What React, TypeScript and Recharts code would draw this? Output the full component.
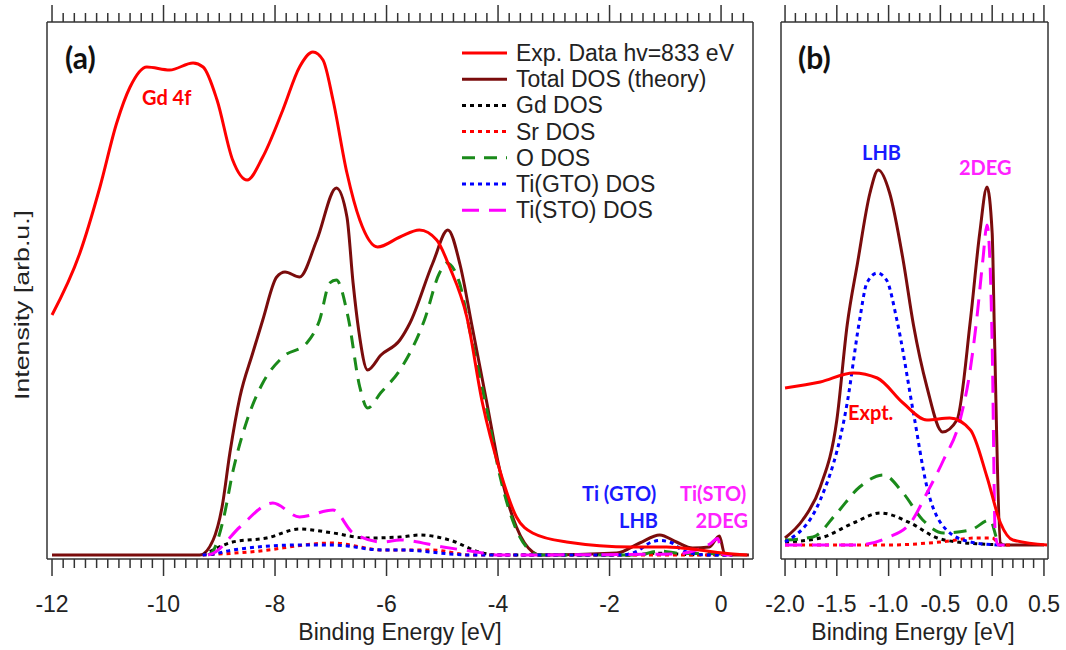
import React from 'react';
import { LineChart, Line, XAxis, YAxis } from 'recharts';

// panel (a): binding energy [eV], intensity [arb.u.]
const expA = [
  [-12, 48], [-11.5, 60.4], [-11.14, 73.6], [-10.84, 86.4], [-10.6, 93.6], [-10.3, 97.6],
  [-9.89, 97], [-9.47, 98.4], [-9.29, 97.6], [-9.04, 91], [-8.76, 79], [-8.5, 75],
  [-8.22, 79.6], [-7.86, 89], [-7.56, 97.6], [-7.32, 100.6], [-7.14, 99], [-6.96, 91],
  [-6.71, 76.4], [-6.48, 67], [-6.16, 61.6], [-5.76, 63.6], [-5.41, 65], [-5.1, 63],
  [-4.87, 57.6], [-4.56, 47.6], [-4.28, 30.4], [-3.97, 17], [-3.67, 7.6], [-3.38, 4.4],
  [-2.77, 2.6], [-1.59, 1.6], [-0.98, 1.6], [-0.39, 1], [0.03, 0.4], [0.47, 0],
];
const totalA = [
  [-12, 0], [-9.35, 0], [-9.11, 3], [-8.95, 9.6], [-8.81, 20.4], [-8.63, 31.6], [-8.4, 40.4],
  [-8.22, 47], [-7.97, 55.6], [-7.82, 56.6], [-7.56, 55.6], [-7.25, 63], [-6.9, 73.4],
  [-6.71, 67.6], [-6.6, 54.4], [-6.5, 45], [-6.34, 37], [-6.1, 40], [-5.76, 43], [-5.58, 46.4],
  [-5.17, 58.4], [-4.9, 65], [-4.68, 58], [-4.47, 46], [-4.2, 30.4], [-3.97, 17], [-3.67, 5.6],
  [-3.38, 0.6], [-3.25, 0], [-1.87, 0.4], [-1.46, 2.4], [-1.1, 4], [-0.8, 2.6], [-0.51, 1.4],
  [-0.21, 1.6], [-0.03, 3.8], [0.06, 0.4], [0.2, 0], [0.5, 0],
];
const gdA = [
  [-9.3, 0], [-9.22, 0.4], [-8.76, 2.6], [-8.15, 3.4], [-7.56, 5.2], [-6.96, 4.4], [-6.36, 3.4],
  [-5.76, 3.6], [-5.4, 4], [-4.87, 3], [-4.28, 0.4], [-4, 0], [-1.7, 0], [-1.1, 0.35],
  [-0.5, 0.05], [0.2, 0],
];
const srA = [
  [-9.3, 0], [-8.45, 0.6], [-6.96, 2.4], [-6.07, 1], [-5.17, 1], [-4.5, 0], [-0.3, 0],
  [-0.05, 0.1], [0.2, 0],
];
const oA = [
  [-9.2, 0], [-9.1, 1], [-8.93, 7], [-8.75, 17], [-8.5, 27], [-8.22, 34.4], [-7.86, 39.6],
  [-7.43, 42.4], [-7.2, 47], [-7.02, 54.4], [-6.9, 55], [-6.69, 47.6], [-6.48, 33.6],
  [-6.34, 29.4], [-6.1, 32.5], [-5.76, 37], [-5.32, 47], [-5.05, 56.4], [-4.92, 58.4],
  [-4.69, 54.4], [-4.51, 45], [-4.2, 29], [-3.97, 16], [-3.67, 5], [-3.38, 0.5], [-3.25, 0],
  [-1.5, 0], [-1.1, 0.8], [-0.7, 0.3], [-0.3, 0.3], [0, 0.2], [0.2, 0],
];
const gtoA = [
  [-9.3, 0], [-9.1, 0.2], [-8.76, 1], [-7.56, 2], [-6.96, 2], [-6.07, 1], [-5.76, 1], [-4.5, 0],
  [-1.8, 0], [-1.5, 0.8], [-1.3, 2.3], [-1.1, 2.9], [-0.9, 2.5], [-0.7, 1], [-0.45, 0.2],
  [-0.2, 0], [0.2, 0],
];
const stoA = [
  [-9.2, 0], [-9.1, 0.4], [-8.63, 5.6], [-8.04, 10.4], [-7.56, 7.6], [-6.96, 9], [-6.6, 4.4],
  [-6.07, 2.6], [-5.76, 3], [-4.99, 1.6], [-4.38, 0.6], [-4, 0], [-0.8, 0.2], [-0.47, 0.9],
  [-0.2, 2.2], [-0.06, 3.3], [0.02, 0.2], [0.1, 0], [0.2, 0],
];

// panel (b): zoom on the region near the Fermi level
const expB = [
  [-2, 31.4], [-1.66, 32.6], [-1.34, 34.4], [-1.11, 33.4], [-0.86, 28.4], [-0.63, 25],
  [-0.41, 25.4], [-0.21, 23], [-0.05, 13.6], [0.08, 4.4], [0.2, 1], [0.53, 0],
];
const totalB = [
  [-2, 1.4], [-1.83, 5], [-1.66, 11.6], [-1.5, 25], [-1.4, 44], [-1.3, 56.4], [-1.18, 70.4],
  [-1.1, 75], [-0.99, 70.4], [-0.86, 57], [-0.76, 44], [-0.63, 31.6], [-0.48, 22.6],
  [-0.34, 25], [-0.21, 45], [-0.12, 62.4], [-0.05, 71.6], [0, 62.4], [0.02, 44], [0.08, 0.4],
  [0.12, 0], [0.5, 0],
];
const gdB = [
  [-2, 0.6], [-1.66, 1.4], [-1.34, 4.4], [-1.08, 6.4], [-0.79, 4.4], [-0.53, 1.4],
  [-0.34, 0.6], [-0.1, 0.2], [0.1, 0],
];
const srB = [[-2, 0], [-1, 0], [-0.5, 0.6], [-0.15, 1.4], [0, 1.4], [0.08, 0], [0.2, 0]];
const oB = [
  [-2, 1], [-1.73, 1.6], [-1.5, 6.4], [-1.28, 11.6], [-1.05, 14], [-0.86, 10.4], [-0.67, 5],
  [-0.47, 2.4], [-0.21, 3], [-0.02, 5], [0.05, 1], [0.1, 0],
];
const gtoB = [
  [-2, 0.6], [-1.66, 9], [-1.4, 28.4], [-1.28, 45], [-1.21, 52.4], [-1.11, 54.4], [-1.02, 53],
  [-0.92, 45], [-0.76, 26.4], [-0.63, 11.6], [-0.44, 3], [-0.21, 0.6], [0.05, 0],
];
const stoB = [
  [-2, 0], [-1.3, 0], [-1.02, 1.4], [-0.79, 4.4], [-0.63, 10.4], [-0.47, 17], [-0.31, 25],
  [-0.22, 34], [-0.15, 45], [-0.09, 57], [-0.05, 64], [-0.02, 56], [0, 40], [0.03, 2],
  [0.06, 0], [0.12, 0],
];

const labelsA = [-12, -10, -8, -6, -4, -2, 0];
const labelsB = [-2.0, -1.5, -1.0, -0.5, 0.0, 0.5];

const toPts = (a: number[][]) => a.map(([e, v]) => ({ e, v }));

const RED = '#ff0000';
const MAROON = '#7a0c0c';
const GREEN = '#1a8a1a';
const BLUE = '#0000ff';
const MAGENTA = '#ff00ff';
const AXIS = '#333';
const FONT = '"Liberation Sans", Arial, sans-serif';
const BOLD = 'Lato, "Open Sans", sans-serif';

const series = [
  { name: 'Exp. Data hv=833 eV', color: RED, dash: undefined },
  { name: 'Total DOS (theory)', color: MAROON, dash: undefined },
  { name: 'Gd DOS', color: '#000', dash: '4 4' },
  { name: 'Sr DOS', color: RED, dash: '4 4' },
  { name: 'O DOS', color: GREEN, dash: '13 9' },
  { name: 'Ti(GTO) DOS', color: BLUE, dash: '4 4' },
  { name: 'Ti(STO) DOS', color: MAGENTA, dash: '17 10' },
];

const minorTicks = (from: number, to: number, step: number) => {
  const out: number[] = [];
  for (let i = 0; from + i * step <= to + 1e-9; i++) out.push(Math.round((from + i * step) * 10) / 10);
  return out;
};
const ticksA = minorTicks(-12, 0.4, 0.2);
const ticksB = minorTicks(-2, 0.5, 0.1);

const PLOT_TOP = 22;
const PLOT_BOTTOM = 559;

function makeTick(side: 'top' | 'bottom', labels: number[], fmt: (v: number) => string) {
  return (props: any) => {
    const { x, payload } = props;
    const major = labels.some((l) => Math.abs(l - payload.value) < 1e-6);
    const len = major ? 17 : 9;
    const y0 = side === 'bottom' ? PLOT_BOTTOM : PLOT_TOP;
    const dir = side === 'bottom' ? 1 : -1;
    return (
      <g>
        <line x1={x} x2={x} y1={y0} y2={y0 + dir * len} stroke={AXIS} strokeWidth={1.5} />
        {side === 'bottom' && major && (
          <text x={x} y={604} textAnchor="middle" dominantBaseline="central" fontFamily={FONT} fontSize={23} fill="#222">
            {fmt(payload.value)}
          </text>
        )}
      </g>
    );
  };
}

function Panel({ width, margin, domainX, domainY, ticks, labels, fmt, data }: any) {
  const lines = [data.total, data.gd, data.sr, data.o, data.gto, data.sto, data.exp];
  const styles = [series[1], series[2], series[3], series[4], series[5], series[6], series[0]];
  return (
    <LineChart width={width} height={650} margin={margin}>
      <XAxis
        dataKey="e"
        type="number"
        domain={domainX}
        allowDataOverflow
        ticks={ticks}
        interval={0}
        height={1}
        tickLine={false}
        axisLine={{ stroke: AXIS, strokeWidth: 1.5 }}
        tick={makeTick('bottom', labels, fmt)}
      />
      <XAxis
        xAxisId="top"
        orientation="top"
        dataKey="e"
        type="number"
        domain={domainX}
        allowDataOverflow
        ticks={ticks}
        interval={0}
        height={1}
        tickLine={false}
        axisLine={{ stroke: AXIS, strokeWidth: 1.5 }}
        tick={makeTick('top', labels, fmt)}
      />
      <YAxis width={1} domain={domainY} allowDataOverflow tick={false} tickLine={false} axisLine={{ stroke: AXIS, strokeWidth: 1.5 }} />
      <YAxis yAxisId="r" orientation="right" width={1} domain={domainY} allowDataOverflow tick={false} tickLine={false} axisLine={{ stroke: AXIS, strokeWidth: 1.5 }} />
      {lines.map((d: number[][], i: number) => (
        <Line
          key={styles[i].name}
          data={toPts(d)}
          dataKey="v"
          type="monotone"
          stroke={styles[i].color}
          strokeWidth={3}
          strokeDasharray={styles[i].dash}
          dot={false}
          activeDot={false}
          isAnimationActive={false}
        />
      ))}
    </LineChart>
  );
}

export default function App() {
  const txt = (x: number, y: number, s: string, color: string, size: number, anchor = 'start') => (
    <text x={x} y={y} fill={color} fontFamily={BOLD} fontWeight={700} fontSize={size} textAnchor={anchor} dominantBaseline="central">
      {s}
    </text>
  );
  return (
    <div style={{ position: 'fixed', left: 0, top: 0, width: 1066, height: 650, background: '#fff' }}>
      <div style={{ position: 'absolute', left: 0, top: 0 }}>
        <Panel
          width={760}
          margin={{ top: 21, left: 46, right: 6, bottom: 90 }}
          domainX={[-12.09, 0.573]}
          domainY={[-0.8, 106.6]}
          ticks={ticksA}
          labels={labelsA}
          fmt={(v: number) => String(v)}
          data={{ exp: expA, total: totalA, gd: gdA, sr: srA, o: oA, gto: gtoA, sto: stoA }}
        />
      </div>
      <div style={{ position: 'absolute', left: 760, top: 0 }}>
        <Panel
          width={306}
          margin={{ top: 21, left: 20, right: 17, bottom: 90 }}
          domainX={[-2.039, 0.539]}
          domainY={[-2.8, 104.6]}
          ticks={ticksB}
          labels={labelsB}
          fmt={(v: number) => v.toFixed(1)}
          data={{ exp: expB, total: totalB, gd: gdB, sr: srB, o: oB, gto: gtoB, sto: stoB }}
        />
      </div>
      <svg width={1066} height={650} style={{ position: 'absolute', left: 0, top: 0, pointerEvents: 'none' }}>
        {txt(65, 57, '(a)', '#111', 30)}
        {txt(798, 57, '(b)', '#111', 30)}
        {txt(142, 97, 'Gd 4f', RED, 20)}
        {txt(582, 493, 'Ti (GTO)', '#1a1aff', 20)}
        {txt(658, 520, 'LHB', '#1a1aff', 20, 'end')}
        {txt(680, 493, 'Ti(STO)', '#ff22ff', 20)}
        {txt(748, 520, '2DEG', '#ff22ff', 20, 'end')}
        {txt(862, 152, 'LHB', '#1a1aff', 20)}
        {txt(959, 167, '2DEG', '#ff22ff', 20)}
        {txt(848, 412, 'Expt.', RED, 20)}
        {series.map((s, i) => {
          const y = 53 + i * 26.2;
          return (
            <g key={s.name}>
              <line x1={462} x2={507} y1={y} y2={y} stroke={s.color} strokeWidth={3} strokeDasharray={s.dash} />
              <text x={516} y={y} fontFamily={FONT} fontSize={23} fill="#222" dominantBaseline="central">
                {s.name}
              </text>
            </g>
          );
        })}
        <text x={400} y={632} textAnchor="middle" dominantBaseline="central" fontFamily={FONT} fontSize={23} fill="#222">
          Binding Energy [eV]
        </text>
        <text x={913} y={632} textAnchor="middle" dominantBaseline="central" fontFamily={FONT} fontSize={23} fill="#222">
          Binding Energy [eV]
        </text>
        <text
          x={0}
          y={0}
          transform="translate(21,305) rotate(-90)"
          textAnchor="middle"
          dominantBaseline="central"
          fontFamily={FONT}
          fontSize={21}
          fill="#222"
          textLength={190}
          lengthAdjust="spacingAndGlyphs"
        >
          Intensity [arb.u.]
        </text>
      </svg>
    </div>
  );
}
